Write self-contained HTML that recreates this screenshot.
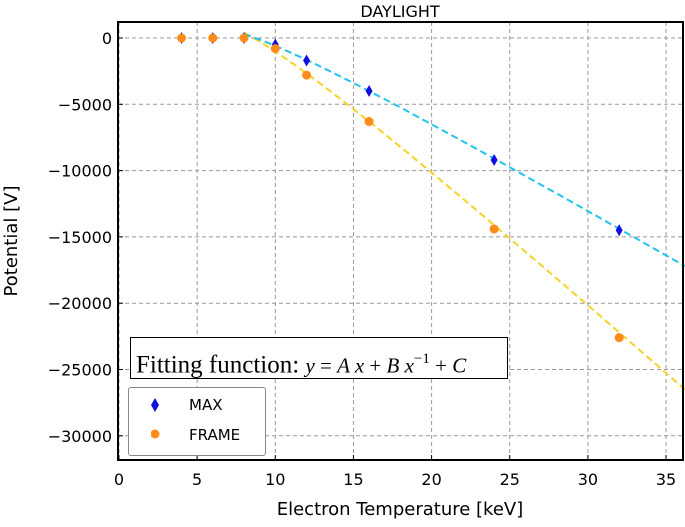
<!DOCTYPE html>
<html><head><meta charset="utf-8"><style>
body{margin:0;background:#fff;width:685px;height:522px;overflow:hidden}
svg{font-family:"DejaVu Sans","Liberation Sans",sans-serif}
</style></head><body>
<svg id="c" width="685" height="522"></svg>
<script>
const xTicks=[0,5,10,15,20,25,30,35];
const yTicks=[0,-5000,-10000,-15000,-20000,-25000,-30000];
const xVals=[4,6,8,10,12,16,24,32];
const maxVals=[0,0,0,-500,-1700,-4000,-9200,-14500];
const frameVals=[0,0,0,-800,-2800,-6300,-14400,-22600];
const maxFit=[-686.4,-19059,8173];
const frameFit=[-1046,-26688,12104];
const fitRange=[8,36.2];
const NS="http://www.w3.org/2000/svg";
const svg=document.getElementById('c');
const L=118,R=683,T=22,B=460;
const X=v=>119+v*15.63;
const Y=v=>38-v*0.01326;
function el(t,a,p){const e=document.createElementNS(NS,t);for(const k in a)e.setAttribute(k,a[k]);(p||svg).appendChild(e);return e;}
const title=el('text',{x:400,y:17,'text-anchor':'middle','font-size':16});title.textContent='DAYLIGHT';


const grid=el('g',{});


xTicks.forEach(t=>{const x=X(t);
 el('line',{x1:x,x2:x,y1:T,y2:B,stroke:'#999','stroke-dasharray':'4,3'},grid);
 el('line',{x1:x,x2:x,y1:B,y2:B-5,stroke:'#000'},grid);
 const tx=el('text',{x:x,y:485,'text-anchor':'middle','font-size':16});tx.textContent=t;
 
 });
yTicks.forEach(t=>{const y=Y(t);
 el('line',{x1:L,x2:R,y1:y,y2:y,stroke:'#999','stroke-dasharray':'4,3'},grid);
 el('line',{x1:L,x2:L+5,y1:y,y2:y,stroke:'#000'},grid);
 const tx=el('text',{x:112,y:y+6,'text-anchor':'end','font-size':16});tx.textContent=t===0?'0':'\u2212'+Math.abs(t);
 
 });
const xl=el('text',{x:400,y:515,'text-anchor':'middle','font-size':18});xl.textContent='Electron Temperature [keV]';


const yl=el('text',{x:0,y:0,'text-anchor':'middle','font-size':18,transform:'translate(17,241) rotate(-90)'});yl.textContent='Potential [V]';


function fitLine(p,color,name){let d='';for(let i=0;i<=60;i++){const x=fitRange[0]+(fitRange[1]-fitRange[0])*i/60;const y=p[0]*x+p[1]/x+p[2];d+=(i?'L':'M')+X(x).toFixed(1)+','+Y(y).toFixed(1);}
 const e=el('path',{d:d,fill:'none',stroke:color,'stroke-width':2,'stroke-dasharray':'7,4'});
 
 }
fitLine(frameFit,'#f5d327','frame-fit-line');
fitLine(maxFit,'#22c3ee','max-fit-line');
xVals.forEach((x,i)=>{
 const d=el('path',{d:`M${X(x)},${Y(maxVals[i])-6}l3.5,6l-3.5,6l-3.5,-6z`,fill:'#1010e0'});
 
 
 const c=el('circle',{cx:X(x),cy:Y(frameVals[i]),r:4.5,fill:'#ff8c1a'});
 
 });
const fr=el('rect',{x:L,y:T,width:R-L,height:B-T,fill:'none',stroke:'#000','stroke-width':2});


</script>
<div style="position:absolute;left:130px;top:337px;width:378px;height:42px;border:1.5px solid #000;background:#fff;font-family:'Liberation Serif',serif;font-size:25px;line-height:42px;padding-left:5px;box-sizing:border-box;white-space:nowrap">Fitting function: <i style="font-size:21px">y</i><span style="font-size:21px"> = </span><i style="font-size:21px">A x</i><span style="font-size:21px"> + </span><i style="font-size:21px">B x</i><sup style="font-size:15px">−1</sup><span style="font-size:21px"> + </span><i style="font-size:21px">C</i></div>
<div style="position:absolute;left:128px;top:387px;width:136px;height:67px;border:1px solid #888;border-radius:3px;background:#fff;font-family:'DejaVu Sans',sans-serif;font-size:15px">
<div style="position:absolute;left:22px;top:8px"><svg width="10" height="14" style="position:absolute;left:0;top:2px"><path d="M4,0l4,7l-4,7l-4,-7z" fill="#1010e0"/></svg><span style="position:absolute;left:38px;white-space:nowrap">MAX</span></div>
<div style="position:absolute;left:22px;top:38px"><svg width="10" height="14" style="position:absolute;left:0;top:3px"><circle cx="4" cy="5" r="4.5" fill="#ff8c1a"/></svg><span style="position:absolute;left:38px;white-space:nowrap">FRAME</span></div>
</div>
</body></html>
